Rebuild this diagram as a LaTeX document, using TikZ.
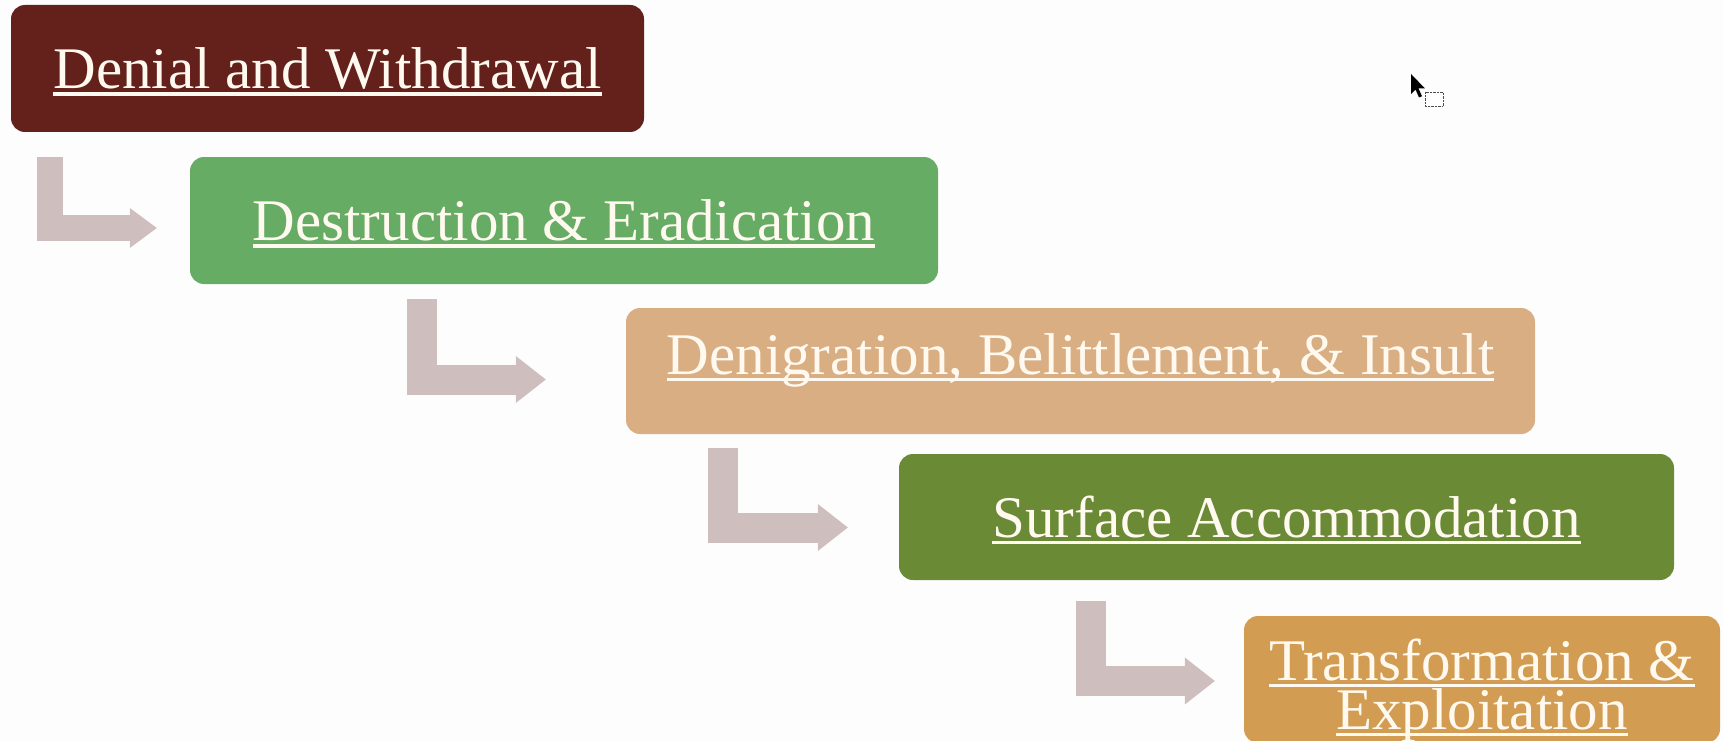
\documentclass[tikz,border=0pt]{standalone}
\usepackage{fontspec}
\setmainfont{Liberation Serif}
\usepackage{xcolor}
\usetikzlibrary{arrows.meta}

\definecolor{denialred}{HTML}{64201B}
\definecolor{destgreen}{HTML}{66AC64}
\definecolor{denigtan}{HTML}{D9AE82}
\definecolor{surfolive}{HTML}{6A8A36}
\definecolor{transochre}{HTML}{D29D52}
\definecolor{bendcol}{HTML}{CFBEBE}
\definecolor{cream}{HTML}{FFF9EF}
\definecolor{paper}{HTML}{FDFDFD}

% underline that sits just under the baseline
\newcommand\ulabel[1]{\setbox0\hbox{#1}\rlap{\rule[-0.12em]{\wd0}{0.06em}}\box0}

\begin{document}
\begin{tikzpicture}[x=1pt, y=-1pt,
    stage/.style={rounded corners=14pt, inner sep=0pt, text=cream,
      font=\fontsize{59}{53}\selectfont, align=center},
    oneline/.style={text height=40pt, text depth=0pt},
    bentarrow/.style={draw=bendcol, line width=30pt,
      -{Triangle[length=30pt,width=47pt,line width=0pt]}}]
  \useasboundingbox (0,0) rectangle (1723,741);
  \fill[paper] (0,0) rectangle (1723,741);

  % the five stages
  \node[stage, oneline, fill=denialred, minimum width=633pt, minimum height=127pt]
    (denial) at (327.5,68.5) {\ulabel{Denial and Withdrawal}};
  \node[stage, oneline, fill=destgreen, minimum width=748pt, minimum height=127pt]
    (destruction) at (564,220.5) {\ulabel{Destruction \& Eradication}};
  \node[stage, text height=40pt, text depth=34pt, fill=denigtan, minimum width=909pt, minimum height=126pt]
    (denigration) at (1080.5,371) {\ulabel{Denigration, Belittlement, \& Insult}};
  \node[stage, oneline, fill=surfolive, minimum width=775pt, minimum height=126pt]
    (surface) at (1286.5,517) {\ulabel{Surface Accommodation}};
  \node[stage, fill=transochre, minimum width=476pt, minimum height=127pt]
    (transform) at (1482,679.5) {\raisebox{-12.5pt}[\height][\depth]{\begin{tabular}{@{}c@{}}
      \ulabel{Transformation \&}\\[-8pt]\ulabel{Exploitation}\end{tabular}}};

  % bent arrows from one stage to the next
  \draw[bentarrow, line width=26pt, -{Triangle[length=27pt,width=40pt,line width=0pt]}]
    ([shift={(39,25)}]denial.south west) |- ([shift={(-33,7.5)}]destruction.west);
  \draw[bentarrow] ([shift={(232.5,15)}]destruction.south west) |- ([shift={(-80,8.5)}]denigration.west);
  \draw[bentarrow] ([shift={(97.5,14)}]denigration.south west) |- ([shift={(-51,10.5)}]surface.west);
  \draw[bentarrow] ([shift={(192,21)}]surface.south west) |- ([shift={(-29,1.5)}]transform.west);

  % mouse pointer
  \fill[black] (1411,74) -- ++(0,20) -- ++(4.5,-4.5) -- ++(3.5,8) -- ++(3,-1.3)
    -- ++(-3.5,-7.7) -- ++(6.5,0) -- cycle;
  \draw[black!70, densely dotted, fill=white] (1425,92) rectangle (1443,106);
\end{tikzpicture}
\end{document}
